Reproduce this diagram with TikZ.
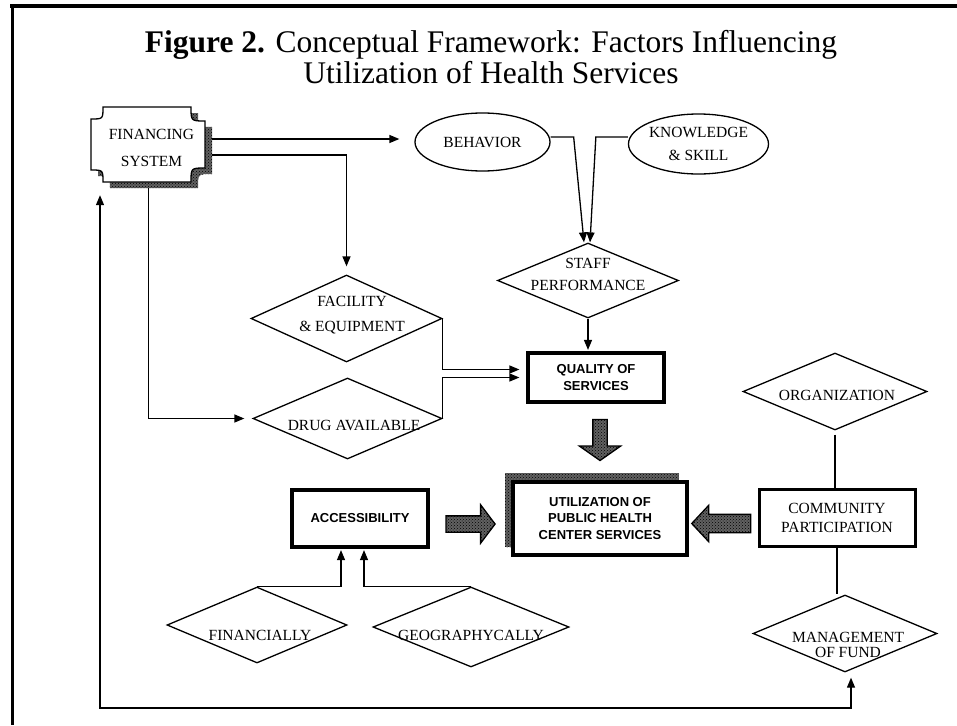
\documentclass[tikz,border=0pt]{standalone}
\usepackage{fontspec}
\setmainfont{Liberation Serif}
\newfontfamily\boxfont{Liberation Sans}
\usetikzlibrary{shapes.geometric,shapes.arrows,arrows.meta,patterns,calc}
\begin{document}
\begin{tikzpicture}[x=1pt,y=-1pt,
  lbl/.style={font=\fontsize{15.5}{18}\selectfont, align=center, inner sep=0pt},
  sbox/.style={draw, line width=3.2pt, fill=white, font=\boxfont\bfseries\fontsize{13}{16.5}\selectfont, align=center, inner sep=0pt},
  dia/.style={diamond, draw, line width=1.3pt, inner sep=0pt},
  ell/.style={ellipse, draw, line width=1.3pt, inner sep=0pt},
  arr/.style={line width=1.3pt, -{Triangle[length=10pt,width=8pt]}},
  ln/.style={line width=1.3pt},
  hatch/.style={preaction={fill=black!62}, pattern=crosshatch dots, pattern color=black},
  fat/.style={single arrow, draw, line width=1.3pt, hatch, single arrow head indent=0pt}
]
\useasboundingbox (0,0) rectangle (957,725);
% frame
\draw[line width=3.5pt] (10,6) -- (957,6);
\draw[line width=3pt] (12,6) -- (12,725);
% title
\node[font=\fontsize{31.5}{31}\selectfont, align=center] (title) at (491,57)
  {\textbf{Figure 2.} Conceptual Framework: Factors Influencing\\Utilization of Health Services};

% financing system plaque (shadow then face)
\path[hatch, shift={(7,6)}] (103,107) -- (191,107) .. controls (191,121) .. (205,121) -- (205,168) .. controls (191,168) .. (191,182) -- (103,182) .. controls (103,170) .. (91,170) -- (91,119) .. controls (103,119) .. (103,107) -- cycle;
\draw[line width=1.3pt, fill=white] (103,107) -- (191,107) .. controls (191,121) .. (205,121) -- (205,168) .. controls (191,168) .. (191,182) -- (103,182) .. controls (103,170) .. (91,170) -- (91,119) .. controls (103,119) .. (103,107) -- cycle;
\node[lbl, font=\fontsize{15.5}{27}\selectfont, minimum width=121, minimum height=81] (fin) at (151.5,147.5) {FINANCING\\SYSTEM};

% ellipses
\node[ell, lbl, minimum width=135, minimum height=58] (beh) at (482.5,142) {BEHAVIOR};
\node[ell, lbl, font=\fontsize{15.5}{23}\selectfont, minimum width=137, minimum height=60] (know) at (698.5,144) {KNOWLEDGE\\\& SKILL};

% diamonds
\node[dia, minimum width=181, minimum height=75] (staff) at (588,280.5) {};
\node[lbl, font=\fontsize{15.5}{22}\selectfont] (staffT) at (588,274) {STAFF\\PERFORMANCE};
\node[dia, minimum width=191, minimum height=87] (fac) at (346.5,318.5) {};
\node[lbl, font=\fontsize{15.5}{25}\selectfont] (facT) at (352,315.5) {FACILITY\\\& EQUIPMENT};
\node[dia, minimum width=189, minimum height=81] (drug) at (347.5,418.5) {};
\node[lbl] (drugT) at (354,425) {DRUG AVAILABLE};
\node[dia, minimum width=184, minimum height=77] (org) at (835,391.5) {};
\node[lbl] (orgT) at (837,395) {ORGANIZATION};
\node[dia, minimum width=184, minimum height=77] (mgmt) at (845,633.5) {};
\node[lbl, font=\fontsize{15.5}{15}\selectfont] (mgmtT) at (848,644.5) {MANAGEMENT\\OF FUND};
\node[dia, minimum width=180, minimum height=76] (finl) at (257,625) {};
\node[lbl] (finlT) at (260,635) {FINANCIALLY};
\node[dia, minimum width=196, minimum height=80] (geo) at (471,627) {};
\node[lbl] (geoT) at (471,635) {GEOGRAPHYCALLY};

% boxes
\node[sbox, minimum width=136, minimum height=49] (qual) at (596,377.5) {QUALITY OF\\SERVICES};
\path[hatch] (505,473) rectangle (679,547);
\node[sbox, minimum width=174, minimum height=73] (util) at (600,518.5) {UTILIZATION OF\\PUBLIC HEALTH\\CENTER SERVICES};
\node[sbox, minimum width=136, minimum height=57] (acc) at (360,518.5) {ACCESSIBILITY};
\node[draw, line width=3pt, fill=white, lbl, font=\fontsize{15.5}{19}\selectfont, minimum width=156, minimum height=57] (comm) at (837,517.5) {COMMUNITY\\PARTICIPATION};

% fat arrows
\node[fat, shape border rotate=270, inner sep=6.5pt, minimum height=41, single arrow head extend=13.5pt, single arrow tip angle=110] (fq) at (600,437.5) {};
\node[fat, inner sep=7.5pt, minimum height=49, single arrow head extend=11pt, single arrow tip angle=106] (fa) at (467.5,524) {};
\node[fat, shape border rotate=180, inner sep=8.5pt, minimum height=59, single arrow head extend=9pt, single arrow tip angle=94] (fc) at (725.5,523.5) {};

% connectors
\coordinate (f1) at ([yshift=8.5pt]fin.east);
\coordinate (f2) at ([yshift=-7.5pt]fin.east);
\draw[arr, shorten >=15pt] (f1) -- (f1 -| beh.west);
\draw[arr, shorten >=8pt] (f2) -| (fac.north);
\draw[arr, shorten >=8pt] ([xshift=-3pt]fin.south) |- (drug.west);
\draw[arr] ([yshift=5pt]beh.east) -- ++(23,0) -- ([xshift=-4pt]staff.north);
\draw[arr] ([yshift=7pt]know.west) -- ++(-32,0) -- ([xshift=2pt]staff.north);
\draw[arr, shorten >=1.5pt] (staff.south) -- (staff.south |- qual.north);
\draw[arr, shorten >=7pt] (fac.east) |- ([yshift=8pt]qual.west);
\draw[arr, shorten >=7pt] (drug.east) |- (qual.west);
\draw[arr, shorten >=1.5pt] (finl.north) -| ([xshift=-19pt]acc.south);
\draw[arr, shorten >=1.5pt] (geo.north) -| ([xshift=4pt]acc.south);
\draw[ln] ([yshift=-4pt]org.south) -- (org.south |- comm.north);
\draw[ln] (comm.south) -- (comm.south |- mgmt.north);
\coordinate (fbl) at (100,708);
\draw[line width=1.3pt, {Triangle[length=10pt,width=8pt]}-{Triangle[length=10pt,width=8pt]}, shorten <=7pt, shorten >=5pt]
  (fin.south -| fbl) -- (fbl) -| ([xshift=6pt]mgmt.south);
\end{tikzpicture}
\end{document}
